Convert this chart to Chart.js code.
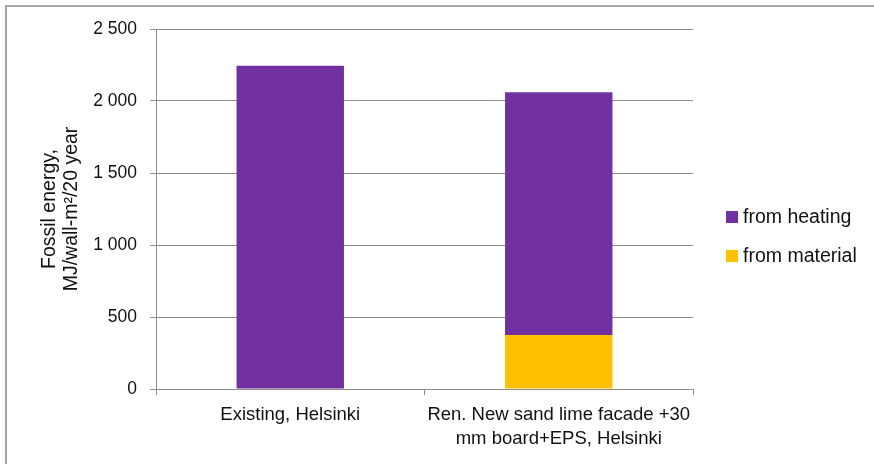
<!DOCTYPE html>
<html>
<head>
<meta charset="utf-8">
<script src="https://cdn.jsdelivr.net/npm/chart.js@4/dist/chart.umd.min.js"></script>
<style>
  html, body { margin: 0; padding: 0; background: #fff; }
  #wrap { position: relative; width: 874px; height: 464px; overflow: hidden; }
  #frame { position: absolute; left: 5px; top: 5px; right: -10px; bottom: -10px;
           border-top: 2px solid #a6a6a6; border-left: 2px solid #a6a6a6; }
  canvas { position: absolute; left: 0; top: 0; }
</style>
</head>
<body>
<div id="wrap">
  <div id="frame"></div>
  <canvas id="chart" width="874" height="464"></canvas>
</div>
<script>
// Chart data
const categories = [
    'Existing, Helsinki',
    ['Ren. New sand lime facade +30', 'mm board+EPS, Helsinki']
];
const fromMaterial = [0, 375];
const fromHeating = [2245, 1685];
const yTicks = [0, 500, 1000, 1500, 2000, 2500];

const FONT = '"Liberation Sans", Arial, sans-serif';
const GRID = '#8e8e8e';
const TEXT = '#111111';

// thousands with a space, like "2 500"
function fmt(v) {
    return String(v).replace(/\B(?=(\d{3})+(?!\d))/g, ' ');
}

// legend drawn at the right, heating on top
const sideLegend = {
    id: 'sideLegend',
    afterDraw(chart) {
        const ctx = chart.ctx;
        const items = [chart.data.datasets[1], chart.data.datasets[0]];
        ctx.save();
        ctx.font = '19.5px ' + FONT;
        ctx.textBaseline = 'middle';
        items.forEach((ds, i) => {
            const cy = 217 + i * 39;
            ctx.fillStyle = ds.backgroundColor;
            ctx.fillRect(726, cy - 6, 12, 12);
            ctx.fillStyle = TEXT;
            ctx.fillText(ds.label, 743, cy + 1);
        });
        ctx.restore();
    }
};

const chart = new Chart(
    document.getElementById('chart'),
    {
        type: 'bar',
        data: {
            labels: categories,
            datasets: [{
                label: 'from material',
                data: fromMaterial,
                backgroundColor: '#FFC000'
            }, {
                label: 'from heating',
                data: fromHeating,
                backgroundColor: '#7030A0'
            }]
        },
        options: {
            responsive: false,
            animation: false,
            devicePixelRatio: 1,
            layout: {
                padding: { top: 29, right: 181, bottom: 0, left: 0 }
            },
            datasets: {
                bar: { categoryPercentage: 1, barPercentage: 0.4 }
            },
            scales: {
                x: {
                    stacked: true,
                    afterFit(scale) { scale.height = 75; },
                    border: { color: GRID, width: 1 },
                    grid: {
                        offset: true,
                        drawOnChartArea: false,
                        color: GRID,
                        tickLength: 6
                    },
                    ticks: {
                        color: TEXT,
                        padding: 8,
                        maxRotation: 0,
                        autoSkip: false,
                        font: { family: FONT, size: 18.5, lineHeight: 1.3 }
                    }
                },
                y: {
                    stacked: true,
                    min: 0,
                    max: 2500,
                    afterFit(scale) { scale.width = 156; },
                    afterBuildTicks(scale) {
                        scale.ticks = yTicks.map(v => ({ value: v }));
                    },
                    border: { color: GRID, width: 1 },
                    grid: { color: GRID, tickLength: 6 },
                    ticks: {
                        color: TEXT,
                        padding: 13,
                        callback: v => fmt(v),
                        font: { family: FONT, size: 17.5 }
                    },
                    title: {
                        display: true,
                        text: ['Fossil energy,', 'MJ/wall-m\u00b2/20 year'],
                        color: TEXT,
                        padding: { top: 39, bottom: 0 },
                        font: { family: FONT, size: 19.5, lineHeight: 1.13 }
                    }
                }
            },
            plugins: {
                legend: { display: false },
                tooltip: { enabled: false }
            }
        },
        plugins: [sideLegend]
    }
);
</script>
</body>
</html>
